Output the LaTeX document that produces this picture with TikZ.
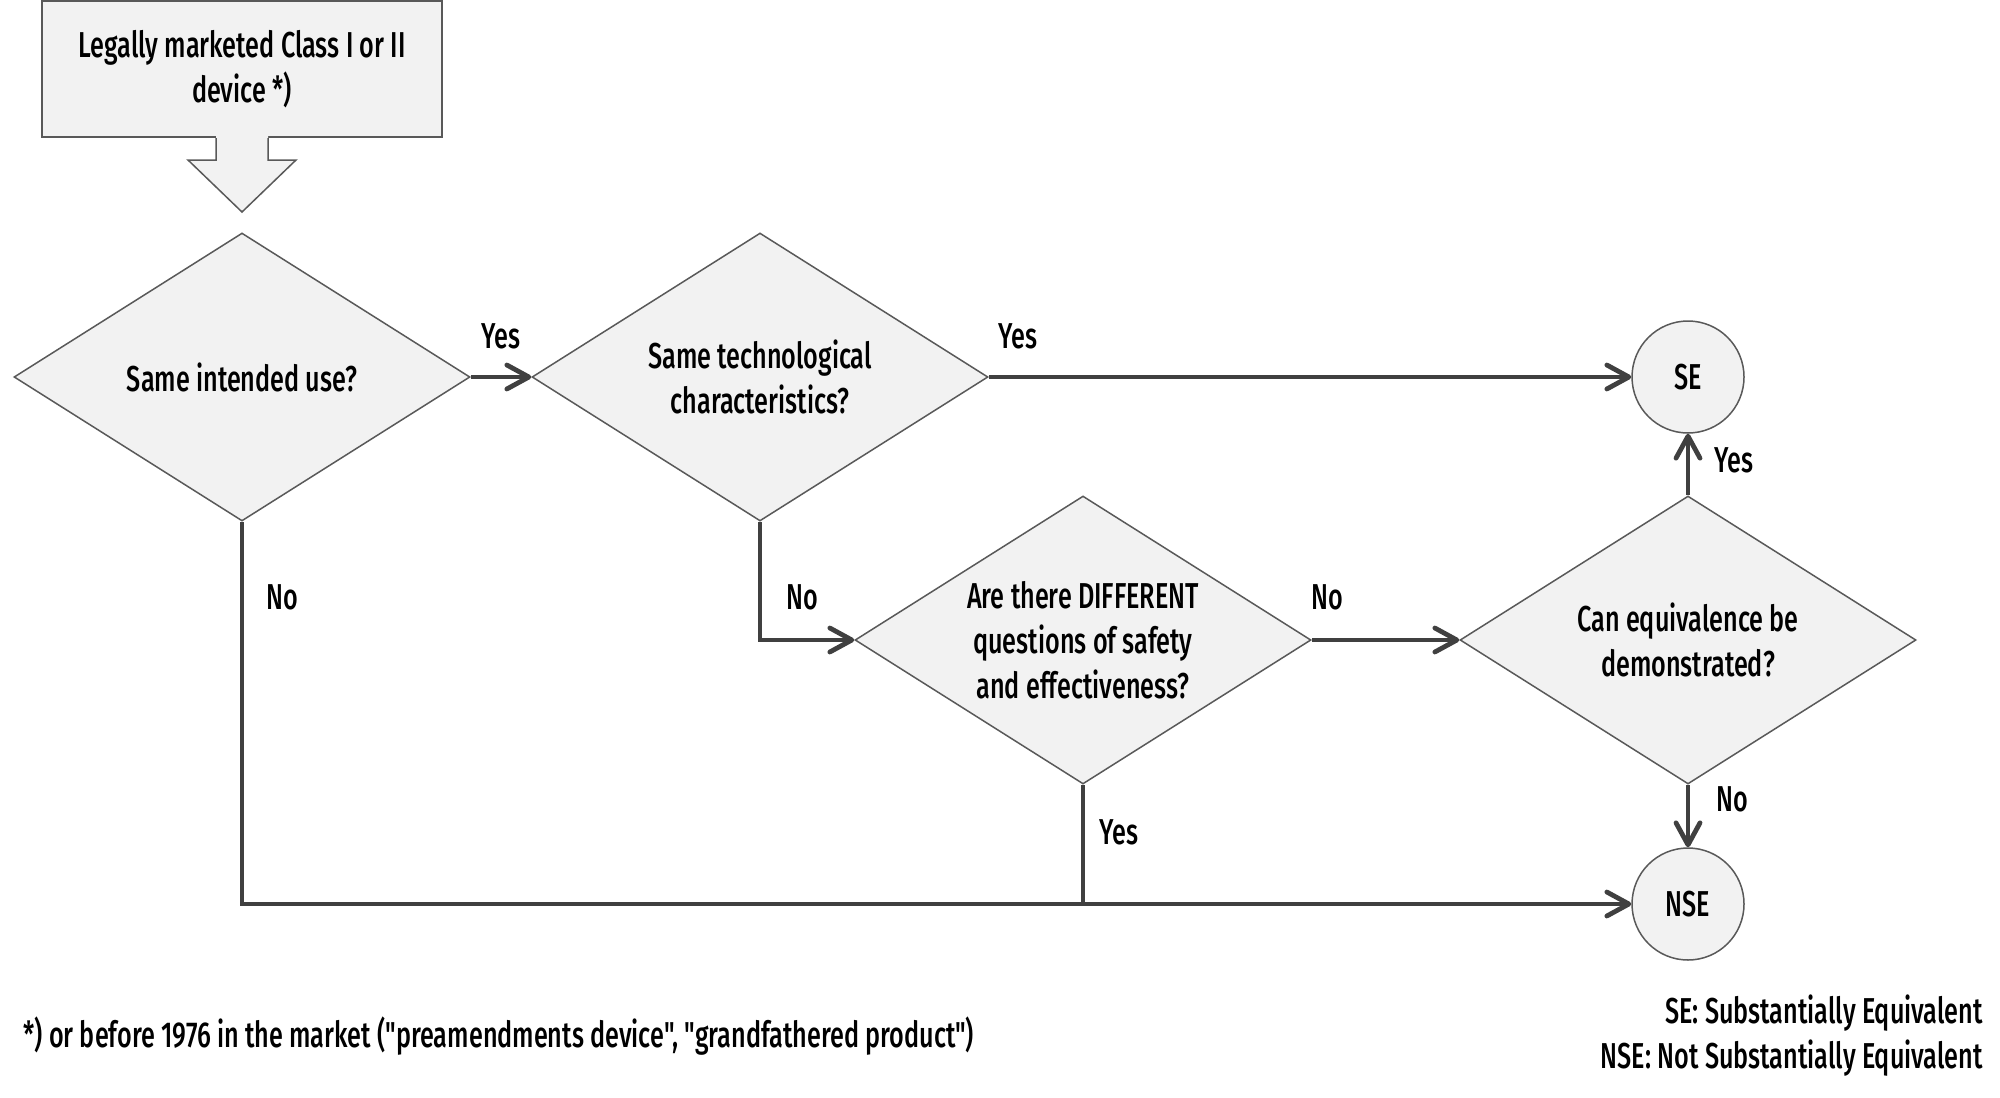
\documentclass[tikz,border=0pt]{standalone}
\usepackage{fontspec}
\setmainfont[FakeStretch=0.70, UprightFont={* Medium}]{Fira Sans}
\newfontfamily\notefont[FakeStretch=0.70, UprightFont={* Medium}]{Fira Sans}
\usetikzlibrary{shapes.geometric,arrows.meta}

\definecolor{shapefill}{HTML}{F2F2F2}
\definecolor{shapeline}{HTML}{595959}
\definecolor{flowline}{HTML}{404040}

\tikzset{
  txt/.style={font=\fontsize{18}{22.5}\selectfont, inner sep=0pt},
  decision/.style={txt, diamond, draw=shapeline, fill=shapefill, line width=0.75pt,
    aspect=1.58, minimum width=228pt, minimum height=144pt, align=center},
  verdict/.style={txt, circle, draw=shapeline, fill=shapefill, line width=0.75pt, minimum size=56pt},
  flow/.style={draw=flowline, line width=2.4pt,
    -{Straight Barb[round, length=11pt, width=12pt]}},
  joinline/.style={draw=flowline, line width=2.4pt}
}

\begin{document}
\begin{tikzpicture}[x=0.5pt,y=0.5pt,yscale=-1,xscale=1]
\useasboundingbox (0,0) rectangle (2000,1097);

% start box and its block arrow
\node[txt, draw=shapeline, fill=shapefill, line width=0.75pt, minimum width=200pt, minimum height=68pt, align=center] (device) at (242,69) {Legally marketed Class I or II\\ device *)};
\fill[shapefill] (216,135) -- (216,160) -- (188,160) -- (242,212) -- (296,160) -- (268,160) -- (268,135) -- cycle ;
\draw[shapeline, line width=0.75pt] (216,138) -- (216,160) -- (188,160) -- (242,212) -- (296,160) -- (268,160) -- (268,138) ;

% decisions
\node[decision] (use) at (242,377) {Same intended use?};
\node[decision] (tech) at (760,377) {Same technological\\ characteristics?};
\node[decision] (diff) at (1083,640) {Are there DIFFERENT\\ questions of safety\\ and effectiveness?};
\node[decision] (equiv) at (1688,640) {Can equivalence be\\ demonstrated?};

% outcomes
\node[verdict] (se) at (1688,377) {SE};
\node[verdict] (nse) at (1688,904) {NSE};

% connectors
\draw[flow] (use.east) -- (tech.west);
\draw[flow] (tech.east) -- (se.west);
\draw[flow] (tech.south) |- (diff.west);
\draw[flow] (diff.east) -- (equiv.west);
\draw[flow] (equiv.north) -- (se.south);
\draw[flow] (equiv.south) -- (nse.north);
\draw[flow] (use.south) |- (nse.west);
\draw[joinline] (diff.south) -- (diff.south |- nse.west);

% labels
\node[txt] (yes1) at (501,336) {Yes};
\node[txt] (yes2) at (1018,336) {Yes};
\node[txt] (no1) at (282,597) {No};
\node[txt] (no2) at (802,597) {No};
\node[txt] (no3) at (1327,597) {No};
\node[txt] (yes3) at (1734,460) {Yes};
\node[txt] (no4) at (1732,799) {No};
\node[txt] (yes4) at (1119,832) {Yes};

% notes
\node[txt, anchor=west] (note) at (23,1036) {\notefont *) or before 1976 in the market ("preamendments device", "grandfathered product")};
\node[txt, anchor=east, align=right] (legend) at (1983,1036) {SE: Substantially Equivalent\\ NSE: Not Substantially Equivalent};

\end{tikzpicture}
\end{document}
